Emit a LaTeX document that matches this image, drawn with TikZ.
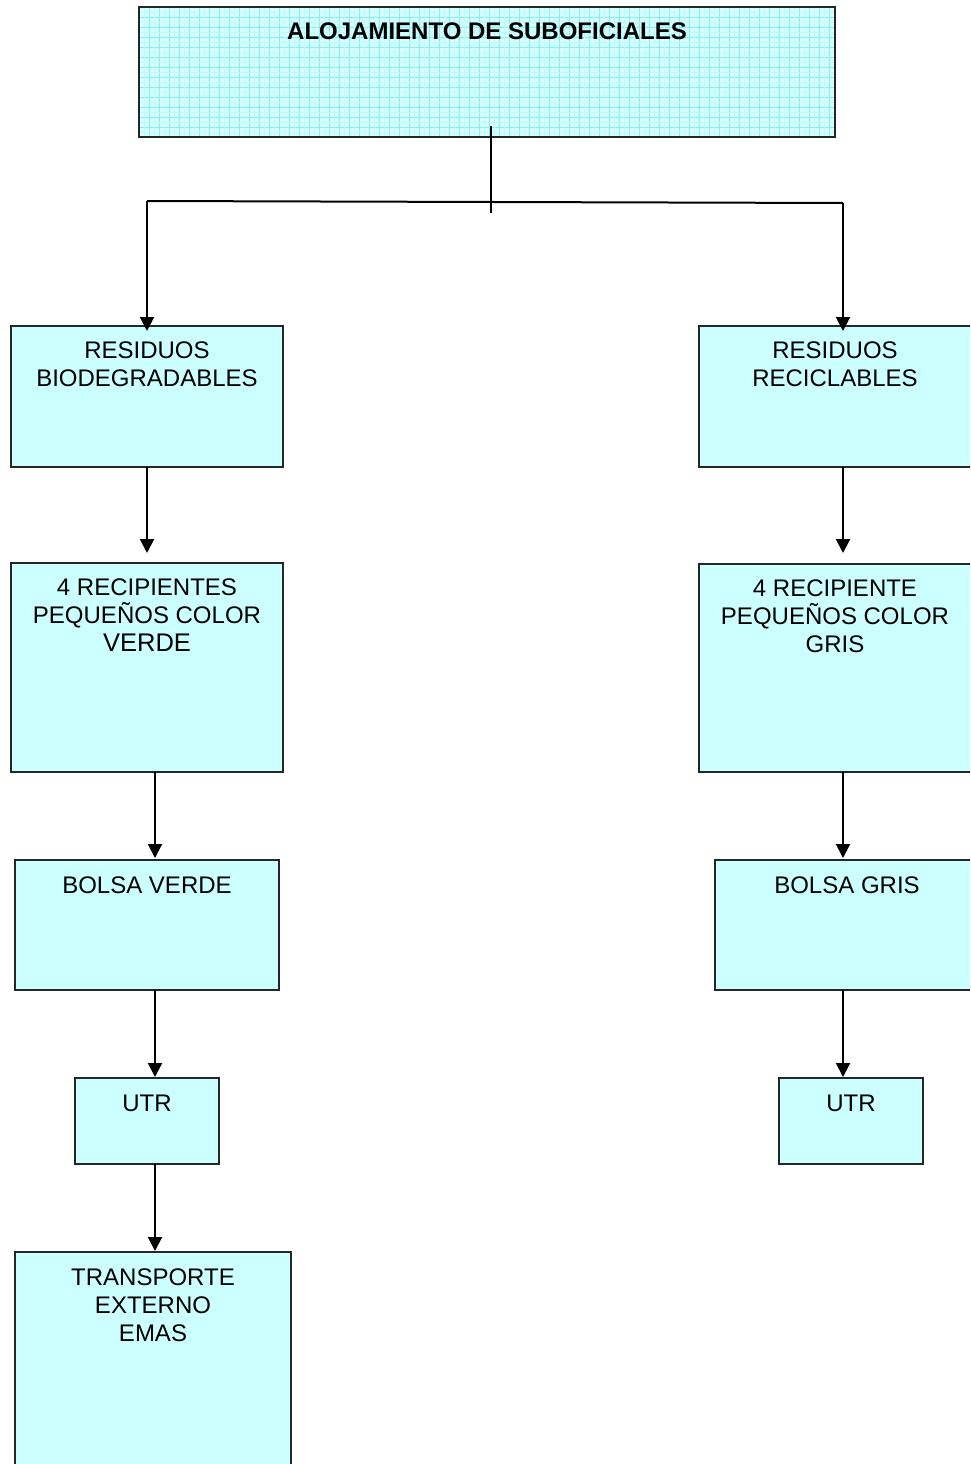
\documentclass[tikz,border=0pt]{standalone}
\usepackage{fontspec}
\setmainfont{Liberation Sans}
\usetikzlibrary{arrows.meta,calc}
\definecolor{boxfill}{RGB}{204,255,255}
\definecolor{gridfill}{RGB}{214,255,255}
\definecolor{gridline}{RGB}{130,240,240}
\begin{document}
\begin{tikzpicture}[x=1pt,y=-1pt,
  box/.style={draw=black!85, line width=1.5pt, fill=boxfill, rectangle,
              inner sep=0pt, outer sep=0pt, anchor=north west},
  lbl/.style={font=\fontsize{24}{28}\selectfont, align=center, anchor=north, inner sep=0pt},
  conn/.style={line width=2pt, black},
  arr/.style={conn, -{Triangle[length=14pt,width=14pt]}}]
\useasboundingbox (0,0) rectangle (970,1464);
\clip (0,0) rectangle (970,1464);

% header box with a fine grid texture
\node[box, fill=gridfill, minimum width=696pt, minimum height=130pt] (top) at (139,7) {};
\begin{scope}
  \clip (top.north west) rectangle (top.south east);
  \foreach \gx in {139,149,...,839} \draw[gridline, line width=0.8pt] (\gx,7) -- (\gx,137);
  \foreach \gy in {7,17,...,137} \draw[gridline, line width=0.8pt] (139,\gy) -- (835,\gy);
  \foreach \gx in {144,154,...,839} \draw[gridline!50, line width=0.5pt] (\gx,7) -- (\gx,137);
  \foreach \gy in {12,22,...,137} \draw[gridline!50, line width=0.5pt] (139,\gy) -- (835,\gy);
\end{scope}
\draw[draw=black!85, line width=1.5pt] (top.north west) rectangle (top.south east);
\node[lbl, font=\fontsize{24}{28}\selectfont\bfseries] (topt) at (487,23) {ALOJAMIENTO DE SUBOFICIALES};

% left column
\node[box, minimum width=272pt, minimum height=141pt] (b1) at (11,326) {};
\node[box, minimum width=272pt, minimum height=209pt] (b2) at (11,563) {};
\node[box, minimum width=264pt, minimum height=130pt] (b3) at (15,860) {};
\node[box, minimum width=144pt, minimum height=86pt]  (b4) at (75,1078) {};
\node[box, minimum width=276pt, minimum height=240pt] (b5) at (15,1252) {};

% right column
\node[box, minimum width=280pt, minimum height=141pt] (r1) at (699,326) {};
\node[box, minimum width=280pt, minimum height=208pt] (r2) at (699,564) {};
\node[box, minimum width=264pt, minimum height=130pt] (r3) at (715,860) {};
\node[box, minimum width=144pt, minimum height=86pt]  (r4) at (779,1078) {};

% box texts
\node[lbl] (b1t) at (147,342) {RESIDUOS\\BIODEGRADABLES};
\node[lbl] (b2t) at (147,579) {4 RECIPIENTES\\PEQUEÑOS COLOR\\{\fontsize{25.5}{29}\selectfont VERDE}};
\node[lbl] (b3t) at (147,877) {BOLSA VERDE};
\node[lbl] (b4t) at (147,1095) {UTR};
\node[lbl] (b5t) at (153,1269) {TRANSPORTE\\EXTERNO\\EMAS};
\node[lbl] (r1t) at (835,342) {RESIDUOS\\RECICLABLES};
\node[lbl] (r2t) at (835,580) {4 RECIPIENTE\\PEQUEÑOS COLOR\\GRIS};
\node[lbl] (r3t) at (847,877) {BOLSA GRIS};
\node[lbl] (r4t) at (851,1095) {UTR};

% branching from the header
\coordinate (stemtop) at (491,126);
\coordinate (stembot) at (491,213);
\coordinate (jl) at (147,201);
\coordinate (jr) at (843,203);
\coordinate (xl) at (155,0);
\coordinate (xr) at (843,0);
\draw[conn] (stemtop) -- (stembot);
\draw[conn] (jl) -- (jr);
\draw[arr, shorten >=-5pt] (jl) -- (jl |- b1.north);
\draw[arr, shorten >=-5pt] (jr) -- (jr |- r1.north);

% left chain
\draw[arr, shorten >=10pt] (b1.south) -- (b2.north);
\draw[arr, shorten >=2pt] (b2.south -| xl) -- (b3.north -| xl);
\draw[arr, shorten >=1pt] (b3.south -| xl) -- (b4.north -| xl);
\draw[arr, shorten >=1pt] (b4.south -| xl) -- (b5.north -| xl);

% right chain
\draw[arr, shorten >=11pt] (r1.south -| xr) -- (r2.north -| xr);
\draw[arr, shorten >=2pt] (r2.south -| xr) -- (r3.north -| xr);
\draw[arr, shorten >=1pt] (r3.south -| xr) -- (r4.north -| xr);
\end{tikzpicture}
\end{document}
